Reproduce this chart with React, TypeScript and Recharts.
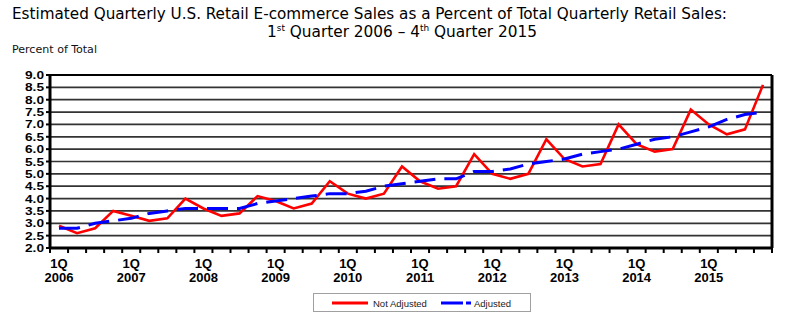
import React from 'react';
import { LineChart, Line, XAxis, YAxis, CartesianGrid, ReferenceLine } from 'recharts';

// quarters 1Q 2006 .. 4Q 2015
const years = [2006, 2007, 2008, 2009, 2010, 2011, 2012, 2013, 2014, 2015];
const quarters = ['1Q', '2Q', '3Q', '4Q'];

const notAdjusted = [
  2.9, 2.6, 2.8, 3.5,
  3.3, 3.1, 3.2, 4.0,
  3.6, 3.3, 3.4, 4.1,
  3.9, 3.6, 3.8, 4.7,
  4.2, 4.0, 4.2, 5.3,
  4.7, 4.4, 4.5, 5.8,
  5.0, 4.8, 5.0, 6.4,
  5.6, 5.3, 5.4, 7.0,
  6.2, 5.9, 6.0, 7.6,
  7.0, 6.6, 6.8, 8.6,
];

const adjusted = [
  2.8, 2.8, 3.0, 3.1,
  3.2, 3.4, 3.5, 3.6,
  3.6, 3.6, 3.6, 3.8,
  3.9, 4.0, 4.1, 4.2,
  4.2, 4.3, 4.5, 4.6,
  4.7, 4.8, 4.8, 5.1,
  5.1, 5.2, 5.4, 5.5,
  5.6, 5.8, 5.9, 6.0,
  6.2, 6.4, 6.5, 6.7,
  6.9, 7.2, 7.4, 7.5,
];

const yTicks = [2.0, 2.5, 3.0, 3.5, 4.0, 4.5, 5.0, 5.5, 6.0, 6.5, 7.0, 7.5, 8.0, 8.5, 9.0];

const categories = years.flatMap((year) => quarters.map((q) => ({ q, year })));

// each quarter sits in the middle of its slot
const data = categories.map((c, i) => ({
  pos: i + 0.5,
  label: `${c.q} ${c.year}`,
  notAdjusted: notAdjusted[i],
  adjusted: adjusted[i],
}));

// tick marks on slot edges, labels under every 1Q
const edgeTicks = categories.map((_, i) => i).concat(categories.length);
const labelTicks = categories.map((c, i) => (c.q === '1Q' ? i + 0.5 : -1)).filter((v) => v >= 0);
const xTicks = [...edgeTicks, ...labelTicks].sort((a, b) => a - b);

const axisFont = "'Liberation Sans', Arial, sans-serif";
const titleFont = "'DejaVu Sans Condensed', 'DejaVu Sans', sans-serif";

const XTick = (props: any) => {
  const { x, y, payload } = props;
  const v = payload.value;
  if (Number.isInteger(v)) {
    return <line x1={x} x2={x} y1={y} y2={y + 5} stroke="#000" strokeWidth={2} />;
  }
  const c = categories[Math.floor(v)];
  return (
    <text x={x} y={y} textAnchor="middle" fontSize={13} fontWeight="bold" fontFamily={axisFont} fill="#000">
      <tspan x={x} dy={20}>{c.q}</tspan>
      <tspan x={x} dy={14}>{c.year}</tspan>
    </text>
  );
};

// labels are packed tight in the original, keep them slim so they don't collide
const YTick = (props: any) => {
  const { x, y, payload } = props;
  return (
    <text
      x={x}
      y={y + 4}
      textAnchor="end"
      fontSize={10.6}
      fontWeight="bold"
      fontFamily={axisFont}
      fill="#000"
      textLength={19}
      lengthAdjust="spacingAndGlyphs"
    >
      {Number(payload.value).toFixed(1)}
    </text>
  );
};

export default function App() {
  return (
    <div style={{ position: 'absolute', left: 0, top: 0, width: 789, height: 324, background: '#fff' }}>
      <LineChart
        width={789}
        height={324}
        data={data}
        margin={{ top: 75, right: 17, left: 10, bottom: 36 }}
      >
        <CartesianGrid vertical={false} stroke="#333" strokeWidth={1.7} />
        <XAxis
          dataKey="pos"
          type="number"
          domain={[0, 40]}
          ticks={xTicks}
          interval={0}
          tick={<XTick />}
          tickLine={false}
          tickSize={0}
          tickMargin={0}
          height={40}
          axisLine={{ stroke: '#000', strokeWidth: 3 }}
        />
        <YAxis
          type="number"
          domain={[2, 9]}
          ticks={yTicks}
          interval={0}
          width={40}
          tick={<YTick />}
          tickLine={{ stroke: '#000', strokeWidth: 2 }}
          tickSize={4}
          tickMargin={2}
          axisLine={{ stroke: '#000', strokeWidth: 3 }}
        />
        <ReferenceLine y={9} stroke="#000" strokeWidth={2} />
        <ReferenceLine x={40} stroke="#000" strokeWidth={3} />
        <Line
          type="linear"
          dataKey="notAdjusted"
          name="Not Adjusted"
          stroke="#ff0000"
          strokeWidth={2.6}
          dot={false}
          isAnimationActive={false}
        />
        <Line
          type="linear"
          dataKey="adjusted"
          name="Adjusted"
          stroke="#0000ff"
          strokeWidth={3}
          strokeDasharray="21 9"
          dot={false}
          isAnimationActive={false}
        />
      </LineChart>

      <svg
        width={789}
        height={324}
        style={{ position: 'absolute', left: 0, top: 0, pointerEvents: 'none' }}
      >
        <text x={12} y={19} fontSize={15.5} fontFamily={titleFont} fill="#000" textLength={715} lengthAdjust="spacingAndGlyphs">
          Estimated Quarterly U.S. Retail E-commerce Sales as a Percent of Total Quarterly Retail Sales:
        </text>
        <text x={267} y={37} fontSize={15.5} fontFamily={titleFont} fill="#000" textLength={270} lengthAdjust="spacingAndGlyphs">
          1<tspan fontSize={9} dy={-6}>st</tspan>
          <tspan dy={6}> Quarter 2006 – 4</tspan>
          <tspan fontSize={9} dy={-6}>th</tspan>
          <tspan dy={6}> Quarter 2015</tspan>
        </text>
        <text x={12} y={53} fontSize={11} fontFamily={titleFont} fill="#111" textLength={85} lengthAdjust="spacingAndGlyphs">
          Percent of Total
        </text>

        {/* legend */}
        <rect x={313.5} y={293.5} width={217} height={18} fill="#fff" stroke="#a0a0a0" strokeWidth={1} />
        <line x1={332} x2={368} y1={303} y2={303} stroke="#ff0000" strokeWidth={3} />
        <text x={373} y={306.5} fontSize={9.5} fontFamily={axisFont} fill="#222">Not Adjusted</text>
        <line x1={441} x2={471} y1={303} y2={303} stroke="#0000ff" strokeWidth={3} strokeDasharray="22 3" />
        <text x={474} y={306.5} fontSize={9.5} fontFamily={axisFont} fill="#222">Adjusted</text>
      </svg>
    </div>
  );
}
